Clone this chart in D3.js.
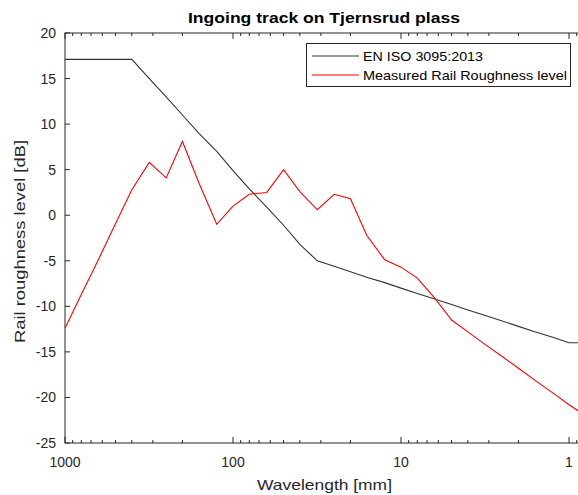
<!DOCTYPE html>
<html><head><meta charset="utf-8">
<script src="https://cdn.jsdelivr.net/npm/d3@7/dist/d3.min.js"></script>
<style>body{margin:0;background:#fff}svg{display:block}</style>
</head><body><svg id="c" width="578" height="495"></svg>
<script>
const wavelengths = [1000,800,630,500,400,315,250,200,160,125,100,80,63,50,40,31.5,25,20,16,12.5,10,8,6.3,5,4,3.15,2.5,2,1.6,1.25,1,0.8];
const isoLimit = [17.1,17.1,17.1,17.1,17.1,15.0,13.0,11.0,9.0,7.0,4.9,2.9,0.9,-1.1,-3.2,-5.0,-5.6,-6.2,-6.8,-7.4,-8.0,-8.6,-9.2,-9.8,-10.4,-11.0,-11.6,-12.2,-12.8,-13.4,-14.0,-14.0];
const measured = [-12.4,-8.7,-4.8,-0.9,2.8,5.8,4.1,8.1,3.6,-1.0,1.0,2.3,2.5,5.0,2.6,0.6,2.3,1.8,-2.2,-4.9,-5.7,-6.9,-9.1,-11.5,-12.8,-14.2,-15.5,-16.8,-18.1,-19.5,-20.8,-22.0];
const yTicks = [20,15,10,5,0,-5,-10,-15,-20,-25];
const xTicks = [1000,100,10,1];
const seriesNames = ["EN ISO 3095:2013","Measured Rail Roughness level"];
const colors = ["#333333","#ff0000"];

const svg = d3.select("#c");
const L=65, R=585.3, T=33, B=443;
const x = d3.scaleLog().domain([1000,0.8]).range([L,R]);
const y = d3.scaleLinear().domain([-25,20]).range([B,T]);
const axisCol="#262626";
const font="Liberation Sans, Arial, sans-serif";

const minor=[];
[100,10,1,0.1].forEach(d=>{for(let k=1;k<10;k++){const v=+(d*k).toFixed(3); if(v<=1000&&v>=0.8&&!xTicks.includes(v)) minor.push(v);}});

const g=svg.append("g");
g.append("rect").attr("x",L).attr("y",T).attr("width",R-L).attr("height",B-T).attr("fill","none").attr("stroke",axisCol).attr("stroke-width",1);
minor.forEach(v=>{
  g.append("line").attr("x1",x(v)).attr("x2",x(v)).attr("y1",B).attr("y2",B-3).attr("stroke",axisCol);
  g.append("line").attr("x1",x(v)).attr("x2",x(v)).attr("y1",T).attr("y2",T+3).attr("stroke",axisCol);
});
xTicks.forEach(v=>{
  g.append("line").attr("x1",x(v)).attr("x2",x(v)).attr("y1",B).attr("y2",B-6).attr("stroke",axisCol);
  g.append("line").attr("x1",x(v)).attr("x2",x(v)).attr("y1",T).attr("y2",T+6).attr("stroke",axisCol);
  g.append("text").attr("x",x(v)).attr("y",B+23.5).attr("text-anchor","middle").attr("font-family",font).attr("font-size",14).attr("fill",axisCol).text(v);
});
yTicks.forEach(v=>{
  g.append("line").attr("x1",L).attr("x2",L+5).attr("y1",y(v)).attr("y2",y(v)).attr("stroke",axisCol);
  g.append("line").attr("x1",R).attr("x2",R-5).attr("y1",y(v)).attr("y2",y(v)).attr("stroke",axisCol);
  g.append("text").attr("x",L-9).attr("y",y(v)+5).attr("text-anchor","end").attr("font-family",font).attr("font-size",14).attr("fill",axisCol).text(v);
});

const line = d3.line().x((d,i)=>x(wavelengths[i])).y(d=>y(d));
[isoLimit,measured].forEach((s,i)=>{
  svg.append("path").attr("d",line(s)).attr("fill","none").attr("stroke",colors[i]).attr("stroke-width",1.1);
});

const lg=svg.append("g");
lg.append("rect").attr("x",306.5).attr("y",43.5).attr("width",264).attr("height",43).attr("fill","#fff").attr("stroke",axisCol).attr("stroke-width",1);
const legLens=[120,204];
seriesNames.forEach((n,i)=>{
  const yy=56+i*19;
  lg.append("line").attr("x1",312).attr("x2",359).attr("y1",yy).attr("y2",yy).attr("stroke",colors[i]).attr("stroke-width",1.1);
  lg.append("text").attr("x",363).attr("y",yy+5).attr("font-family",font).attr("font-size",13).attr("fill","#000")
    .attr("textLength",legLens[i]).attr("lengthAdjust","spacingAndGlyphs").text(n);
});

svg.append("text").attr("x",324).attr("y",23).attr("text-anchor","middle").attr("font-family",font).attr("font-weight","bold").attr("font-size",15)
  .attr("textLength",272).attr("lengthAdjust","spacingAndGlyphs").attr("fill","#000").text("Ingoing track on Tjernsrud plass");
svg.append("text").attr("x",324.5).attr("y",490).attr("text-anchor","middle").attr("font-family",font).attr("font-size",15)
  .attr("textLength",135).attr("lengthAdjust","spacingAndGlyphs").attr("fill",axisCol).text("Wavelength [mm]");
svg.append("text").attr("transform",`translate(24.5,241.5) rotate(-90)`).attr("text-anchor","middle").attr("font-family",font).attr("font-size",15)
  .attr("textLength",203).attr("lengthAdjust","spacingAndGlyphs").attr("fill",axisCol).text("Rail roughness level [dB]");
</script></body></html>
